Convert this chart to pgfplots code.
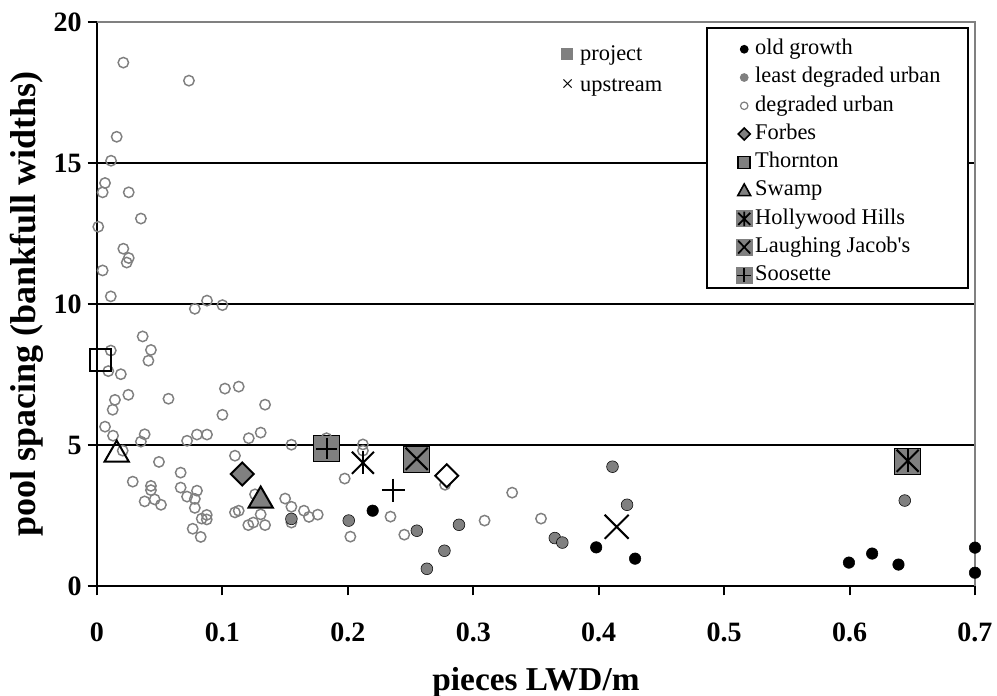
\documentclass[border=0pt]{standalone}
\usepackage{fontspec}
\setmainfont{Liberation Serif}
\usepackage{pgfplots}
\pgfplotsset{compat=1.18}
\definecolor{mk}{HTML}{808080}

% legend symbol helpers (drawn in legend image code)
\newcommand{\legbox}{\path[draw=none, fill=none] (0,-6pt) rectangle (36pt,6pt);}
\newcommand{\legsq}{\fill[mk, draw=none] (21.45pt,-6.3pt) rectangle (34.05pt,6.3pt);}

\begin{document}
\begin{tikzpicture}
\begin{axis}[
  scale only axis, width=658.5pt, height=423pt,
  xmin=0, xmax=0.7, ymin=0, ymax=20,
  xtick={0,0.1,0.2,0.3,0.4,0.5,0.6,0.7},
  ytick={0,5,10,15,20},
  axis lines=left, axis line style={-, line width=1.5pt},
  ymajorgrids, grid style={black, line width=0.9pt},
  tick align=outside, major tick length=7pt,
  tick style={black, line width=1.5pt},
  ticklabel style={font=\bfseries\fontsize{21}{21}\selectfont},
  xticklabel style={yshift=-17pt},
  yticklabel style={xshift=-1pt},
  /pgf/number format/assume math mode=true,
  xlabel={pieces LWD/m},
  ylabel={pool spacing (bankfull widths)},
  xlabel style={font=\bfseries\fontsize{25}{25}\selectfont,
    at={(axis description cs:0.5,-0.1844)}, anchor=base},
  ylabel style={font=\bfseries\fontsize{27}{27}\selectfont,
    at={(axis description cs:-0.0797,0.5)}, anchor=center},
  clip=false,
  legend style={at={(axis cs:0.4863,19.79)}, anchor=north west,
    draw=none, fill=none, inner xsep=0pt, inner ysep=5.2pt,
    font=\fontsize{16.8}{18}\selectfont,
    nodes={text height=13pt, text depth=5pt, inner ysep=1.6pt, inner xsep=0pt},
    /tikz/every even column/.append style={column sep=3.75pt}},
  legend cell align=left,
]

% plot area border (top and right) and legend box
\draw[mk, line width=1.3pt] (axis cs:0,20) -- (axis cs:0.7,20) -- (axis cs:0.7,0);
\draw[black, fill=white, line width=1.5pt] (axis cs:0.4863,19.79) rectangle (axis cs:0.6944,10.57);

% project sites: grey squares
\addplot[only marks, mark=square*, mark size=9.75pt, mark options={fill=mk, draw=none}, forget plot]
  coordinates {(0.1831,4.87) (0.2549,4.51) (0.6463,4.44)};

% degraded urban
\addplot[only marks, mark=o, mark size=3.9pt, mark options={draw=mk, line width=1.1pt}, forget plot]
  coordinates {
  (0.021,18.56) (0.0733,17.92) (0.0157,15.93) (0.0112,15.08) (0.0064,14.29)
  (0.0045,13.96) (0.0253,13.96) (0.035,13.03) (0.001,12.74) (0.021,11.96)
  (0.0253,11.63) (0.0237,11.47) (0.0045,11.19) (0.011,10.27) (0.078,9.83)
  (0.0877,10.12) (0.100,9.96)
  (0.0364,8.85) (0.043,8.37) (0.011,8.35) (0.041,7.99) (0.009,7.62) (0.019,7.51)
  (0.102,7.0) (0.113,7.07) (0.025,6.78) (0.057,6.64) (0.0143,6.6) (0.0125,6.25)
  (0.134,6.43) (0.100,6.07) (0.0064,5.65) (0.0128,5.33) (0.038,5.38) (0.035,5.12)
  (0.0718,5.15) (0.0797,5.37) (0.0877,5.37) (0.121,5.24) (0.1305,5.44) (0.155,5.01)
  (0.0205,4.80) (0.110,4.62) (0.0494,4.40) (0.0667,4.02) (0.0285,3.70) (0.0667,3.49)
  (0.043,3.55) (0.043,3.40) (0.0797,3.38) (0.0718,3.17) (0.078,3.09) (0.038,3.0)
  (0.046,3.07) (0.051,2.88) (0.078,2.77) (0.126,3.25) (0.150,3.10) (0.155,2.81)
  (0.165,2.67) (0.169,2.45) (0.176,2.53) (0.155,2.25) (0.0875,2.52) (0.0835,2.39)
  (0.0875,2.36) (0.110,2.61) (0.113,2.67) (0.1305,2.54) (0.1206,2.16) (0.1246,2.25)
  (0.134,2.16) (0.0763,2.03) (0.0827,1.74)
  (0.183,5.24) (0.212,5.02) (0.212,4.8) (0.1975,3.81) (0.2775,3.59) (0.331,3.31)
  (0.354,2.39) (0.309,2.32) (0.234,2.46) (0.202,1.75) (0.245,1.82)
  };

% least degraded urban
\addplot[only marks, mark=*, mark size=4.4pt, mark options={fill=mk, draw=none}, forget plot]
  coordinates {
  (0.155,2.38) (0.2007,2.32) (0.255,1.96) (0.2886,2.17) (0.277,1.25) (0.263,0.61)
  (0.365,1.70) (0.371,1.54) (0.411,4.23) (0.4226,2.88) (0.644,3.03)
  };

% old growth
\addplot[only marks, mark=*, mark size=4.3pt, mark options={fill=black, draw=none}, forget plot]
  coordinates {
  (0.2198,2.67) (0.398,1.37) (0.429,0.97) (0.5995,0.83) (0.618,1.15) (0.639,0.76)
  (0.700,1.36) (0.700,0.47)
  };

% Forbes
\addplot[only marks, mark=square*, mark size=6.1pt, mark options={rotate=45, fill=mk, draw=black, line width=1.5pt}, forget plot]
  coordinates {(0.1158,3.97)};
\addplot[only marks, mark=square*, mark size=6.1pt, mark options={rotate=45, fill=white, draw=black, line width=1.5pt}, forget plot]
  coordinates {(0.2788,3.91)};
% Thornton (upstream)
\addplot[only marks, mark=square, mark size=8pt, mark options={draw=black, line width=1.5pt}, forget plot]
  coordinates {(0.003,8.01)};
% Swamp
\addplot[only marks, mark=triangle*, mark size=10.5pt, mark options={fill=mk, draw=black, line width=1.5pt}, forget plot]
  coordinates {(0.1305,3.03)};
\addplot[only marks, mark=triangle, mark size=10.5pt, mark options={draw=black, line width=1.5pt}, forget plot]
  coordinates {(0.0157,4.66)};
% Hollywood Hills (asterisk = x + |)
\addplot[only marks, mark=x, mark size=11.7pt, mark options={draw=black, line width=1.5pt}, forget plot]
  coordinates {(0.212,4.37) (0.6463,4.44)};
\addplot[only marks, mark=|, mark size=8.6pt, mark options={draw=black, line width=1.5pt}, forget plot]
  coordinates {(0.212,4.37) (0.6463,4.44)};
% Laughing Jacob's
\addplot[only marks, mark=x, mark size=12.7pt, mark options={draw=black, line width=1.5pt}, forget plot]
  coordinates {(0.4143,2.10)};
\addplot[only marks, mark=x, mark size=11.7pt, mark options={draw=black, line width=1.5pt}, forget plot]
  coordinates {(0.2549,4.51)};
% Soosette
\addplot[only marks, mark=+, mark size=8.6pt, mark options={draw=black, line width=1.5pt}, forget plot]
  coordinates {(0.2362,3.40)};
\addplot[only marks, mark=+, mark size=8pt, mark options={draw=black, line width=1.5pt}, forget plot]
  coordinates {(0.1831,4.87)};

% legend
\addlegendimage{legend image code/.code={\legbox \fill[black, draw=none] (27.75pt,0) circle (3.3pt);}}
\addlegendentry{old growth}
\addlegendimage{legend image code/.code={\legbox \fill[mk, draw=none] (27.75pt,0) circle (3.3pt);}}
\addlegendentry{least degraded urban}
\addlegendimage{legend image code/.code={\legbox \draw[mk, fill=none, line width=0.9pt] (27.75pt,0) circle (2.8pt);}}
\addlegendentry{degraded urban}
\addlegendimage{legend image code/.code={\legbox \draw[fill=mk, draw=black, line width=1.2pt] (27.75pt,4.5pt) -- (32.25pt,0) -- (27.75pt,-4.5pt) -- (23.25pt,0) -- cycle;}}
\addlegendentry{Forbes}
\addlegendimage{legend image code/.code={\legbox \draw[fill=mk, draw=black, line width=1.2pt] (23.25pt,-4.5pt) rectangle (32.25pt,4.5pt);}}
\addlegendentry{Thornton}
\addlegendimage{legend image code/.code={\legbox \draw[fill=mk, draw=black, line width=1.2pt] (27.75pt,5pt) -- (32.6pt,-3.8pt) -- (22.9pt,-3.8pt) -- cycle;}}
\addlegendentry{Swamp}
\addlegendimage{legend image code/.code={\legbox \legsq \draw[black, fill=none, line width=1.3pt] (23.25pt,-4.5pt) -- (32.25pt,4.5pt) (23.25pt,4.5pt) -- (32.25pt,-4.5pt) (27.75pt,-5.5pt) -- (27.75pt,5.5pt);}}
\addlegendentry{Hollywood Hills}
\addlegendimage{legend image code/.code={\legbox \legsq \draw[black, fill=none, line width=1.3pt] (23.25pt,-4.8pt) -- (32.25pt,4.8pt) (23.25pt,4.8pt) -- (32.25pt,-4.8pt);}}
\addlegendentry{Laughing Jacob\textquotesingle s}
\addlegendimage{legend image code/.code={\legbox \legsq \draw[black, fill=none, line width=1.3pt] (22.5pt,0) -- (33pt,0) (27.75pt,-5.25pt) -- (27.75pt,5.25pt);}}
\addlegendentry{Soosette}

% project / upstream key
\node[anchor=base, inner sep=0pt] at (axis cs:0.3748,18.65) {\textcolor{mk}{\rule{9pt}{9pt}}};
\node[anchor=base west, inner sep=0pt, font=\fontsize{16.8}{18}\selectfont] at (axis cs:0.385,18.65) {project};
\node[anchor=base, inner sep=0pt, font=\fontsize{16.8}{18}\selectfont] at (axis cs:0.3752,17.52) {×};
\node[anchor=base west, inner sep=0pt, font=\fontsize{16.8}{18}\selectfont] at (axis cs:0.385,17.52) {upstream};

\end{axis}
\pgfresetboundingbox
\path (-72.75pt,-82.5pt) rectangle (675pt,439.5pt);
\end{tikzpicture}
\end{document}
